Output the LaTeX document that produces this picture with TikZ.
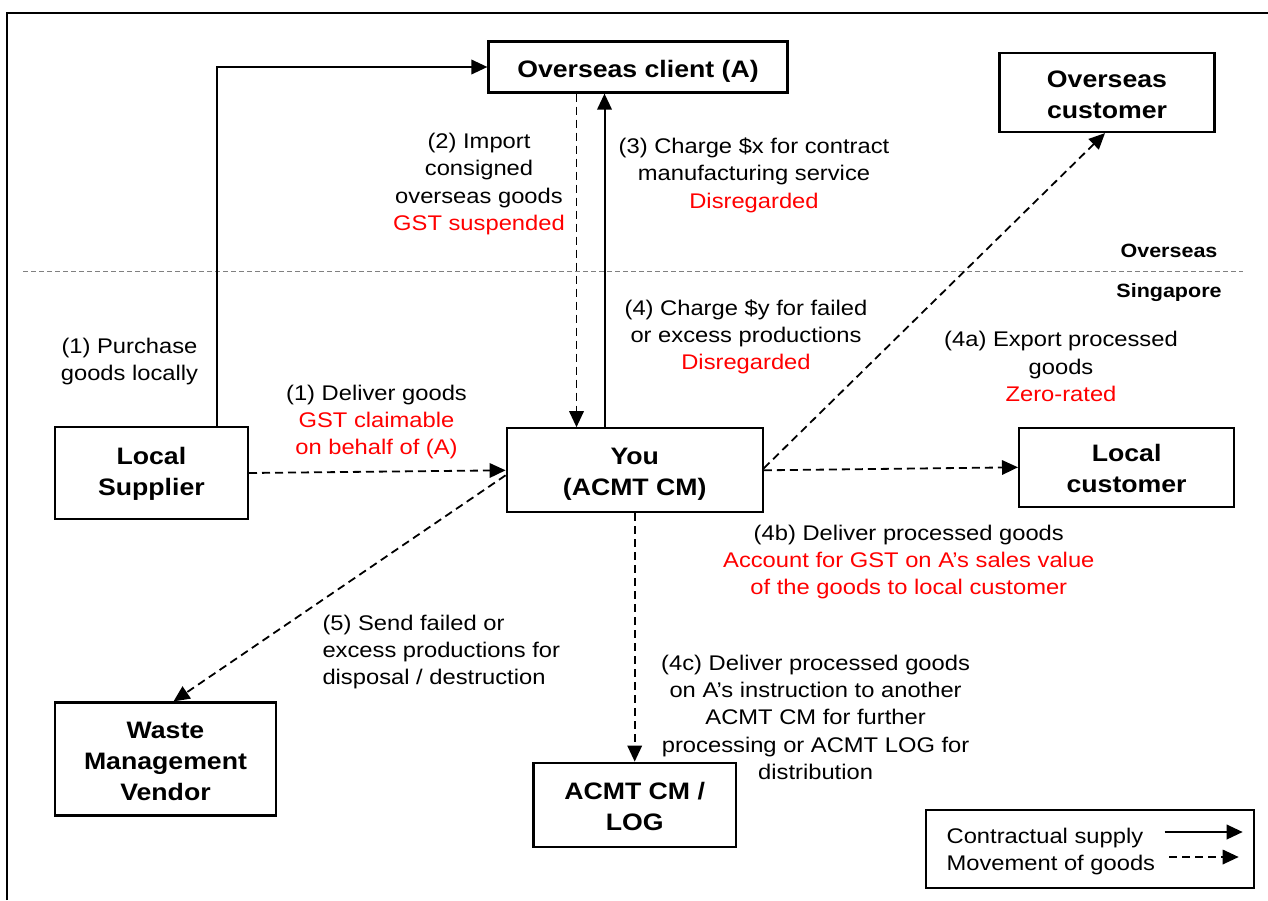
\documentclass[tikz,border=0pt]{standalone}
\usepackage{fontspec}
\setmainfont{Liberation Sans}[FakeStretch=1.12]
\usetikzlibrary{arrows.meta}
\newcommand\bxs{\rule[-5.5pt]{0pt}{31pt}}
\newcommand\bxd{\rule[-11.5pt]{0pt}{37pt}}
\newcommand\lbs{\rule[-7.3pt]{0pt}{27.3pt}}
\begin{document}
\begin{tikzpicture}[x=1pt,y=-1pt]
\tikzset{
 bx/.style={draw, line width=2.2pt, inner sep=0pt, align=center, font=\bfseries\fontsize{23.8}{31}\selectfont},
 lbl/.style={align=center, inner sep=0pt, anchor=north, font=\fontsize{21.2}{27.3}\selectfont},
 zone/.style={inner sep=0pt, anchor=base, font=\bfseries\fontsize{19.2}{23}\selectfont},
 supply/.style={line width=2pt, -{Triangle[length=16pt,width=14.5pt]}},
 goods/.style={supply, line width=1.8pt, dash pattern=on 8pt off 5pt},
 divider/.style={line width=1.2pt, gray, dash pattern=on 5pt off 3pt},
}
\useasboundingbox (0,0) rectangle (1268,900);
% outer frame
\draw[line width=2pt] (7,900) -- (7,13) -- (1268,13);
% divider
\coordinate (dvl) at (23,271.7);
\coordinate (dvr) at (1243,271.7);
\draw[divider] (dvl) -- (dvr);
\node[zone] (zo) at (1169,257.5) {Overseas};
\node[zone] (zs) at (1169,297) {Singapore};
% boxes
\node[bx, minimum width=299pt, minimum height=51pt] (client) at (638,67) {\bxs Overseas client (A)\bxs};
\node[bx, minimum width=215pt, minimum height=79pt] (ocust) at (1107,92.5) {\bxs Overseas\\customer\bxs};
\node[bx, minimum width=215pt, minimum height=79pt] (lcust) at (1126.6,467.3) {\bxs Local\\customer\bxs};
\node[bx, minimum width=256pt, minimum height=84pt] (you) at (634.7,470.3) {\bxs You\\(ACMT CM)\bxs};
\node[bx, minimum width=193pt, minimum height=92pt] (lsup) at (151.4,473) {\bxs Local\\Supplier\bxd};
\node[bx, minimum width=221pt, minimum height=113pt] (waste) at (165.5,759) {\bxs Waste\\Management\\Vendor\bxs};
\node[bx, minimum width=202.5pt, minimum height=84pt] (acmt) at (634.7,804.7) {\bxs ACMT CM /\\LOG\bxs};
% connectors
\draw[supply] (lsup.north -| 217,0) |- (client.west);
\draw[goods] (client.south -| 576.5,0) -- (you.north -| 576.5,0);
\draw[supply] (you.north -| 604.5,0) -- (client.south -| 604.5,0);
\draw[goods] (lsup.east) -- (you.west);
\draw[goods] ([yshift=-5pt]you.west) -- ([xshift=8pt]waste.north);
\draw[goods] (you.east) -- (lcust.west);
\draw[goods] ([yshift=2pt]you.east) -- ([xshift=-2pt]ocust.south);
\draw[goods] (you.south) -- (acmt.north);
% labels
\node[lbl] (t2) at (479,128.3) {\lbs (2) Import\\consigned\\overseas goods\\\textcolor{red}{GST suspended}\lbs};
\node[lbl] (t3) at (754,133.3) {\lbs (3) Charge \$x for contract\\manufacturing service\\\textcolor{red}{Disregarded}\lbs};
\node[lbl] (t4) at (746,295) {\lbs (4) Charge \$y for failed\\or excess productions\\\textcolor{red}{Disregarded}\lbs};
\node[lbl] (t1p) at (129.5,333.3) {\lbs (1) Purchase\\goods locally\lbs};
\node[lbl] (t1d) at (376.5,380) {\lbs (1) Deliver goods\\\textcolor{red}{GST claimable}\\\textcolor{red}{on behalf of (A)}\lbs};
\node[lbl] (t4a) at (1061,326.7) {\lbs (4a) Export processed\\goods\\\textcolor{red}{Zero-rated}\lbs};
\node[lbl] (t4b) at (908.8,520) {\lbs (4b) Deliver processed goods\\\textcolor{red}{Account for GST on A’s sales value}\\\textcolor{red}{of the goods to local customer}\lbs};
\node[lbl, align=left, anchor=north west] (t5) at (322.3,610) {\lbs (5) Send failed or\\excess productions for\\disposal / destruction\lbs};
\node[lbl] (t4c) at (815.6,650) {\lbs (4c) Deliver processed goods\\on A’s instruction to another\\ACMT CM for further\\processing or ACMT LOG for\\distribution\lbs};
% legend
\node[draw, line width=2pt, minimum width=328.5pt, minimum height=77.7pt, inner sep=0pt] (legend) at (1089.75,848.85) {};
\node[lbl, anchor=base west] (lg1) at (946.4,843.3) {Contractual supply};
\node[lbl, anchor=base west] (lg2) at (946.4,870.7) {Movement of goods};
\coordinate (la1) at (1164.6,832);
\coordinate (lb1) at (1242.7,832);
\coordinate (la2) at (1169.4,857);
\coordinate (lb2) at (1238.7,857);
\draw[supply] (la1) -- (lb1);
\draw[goods] (la2) -- (lb2);
\end{tikzpicture}
\end{document}
